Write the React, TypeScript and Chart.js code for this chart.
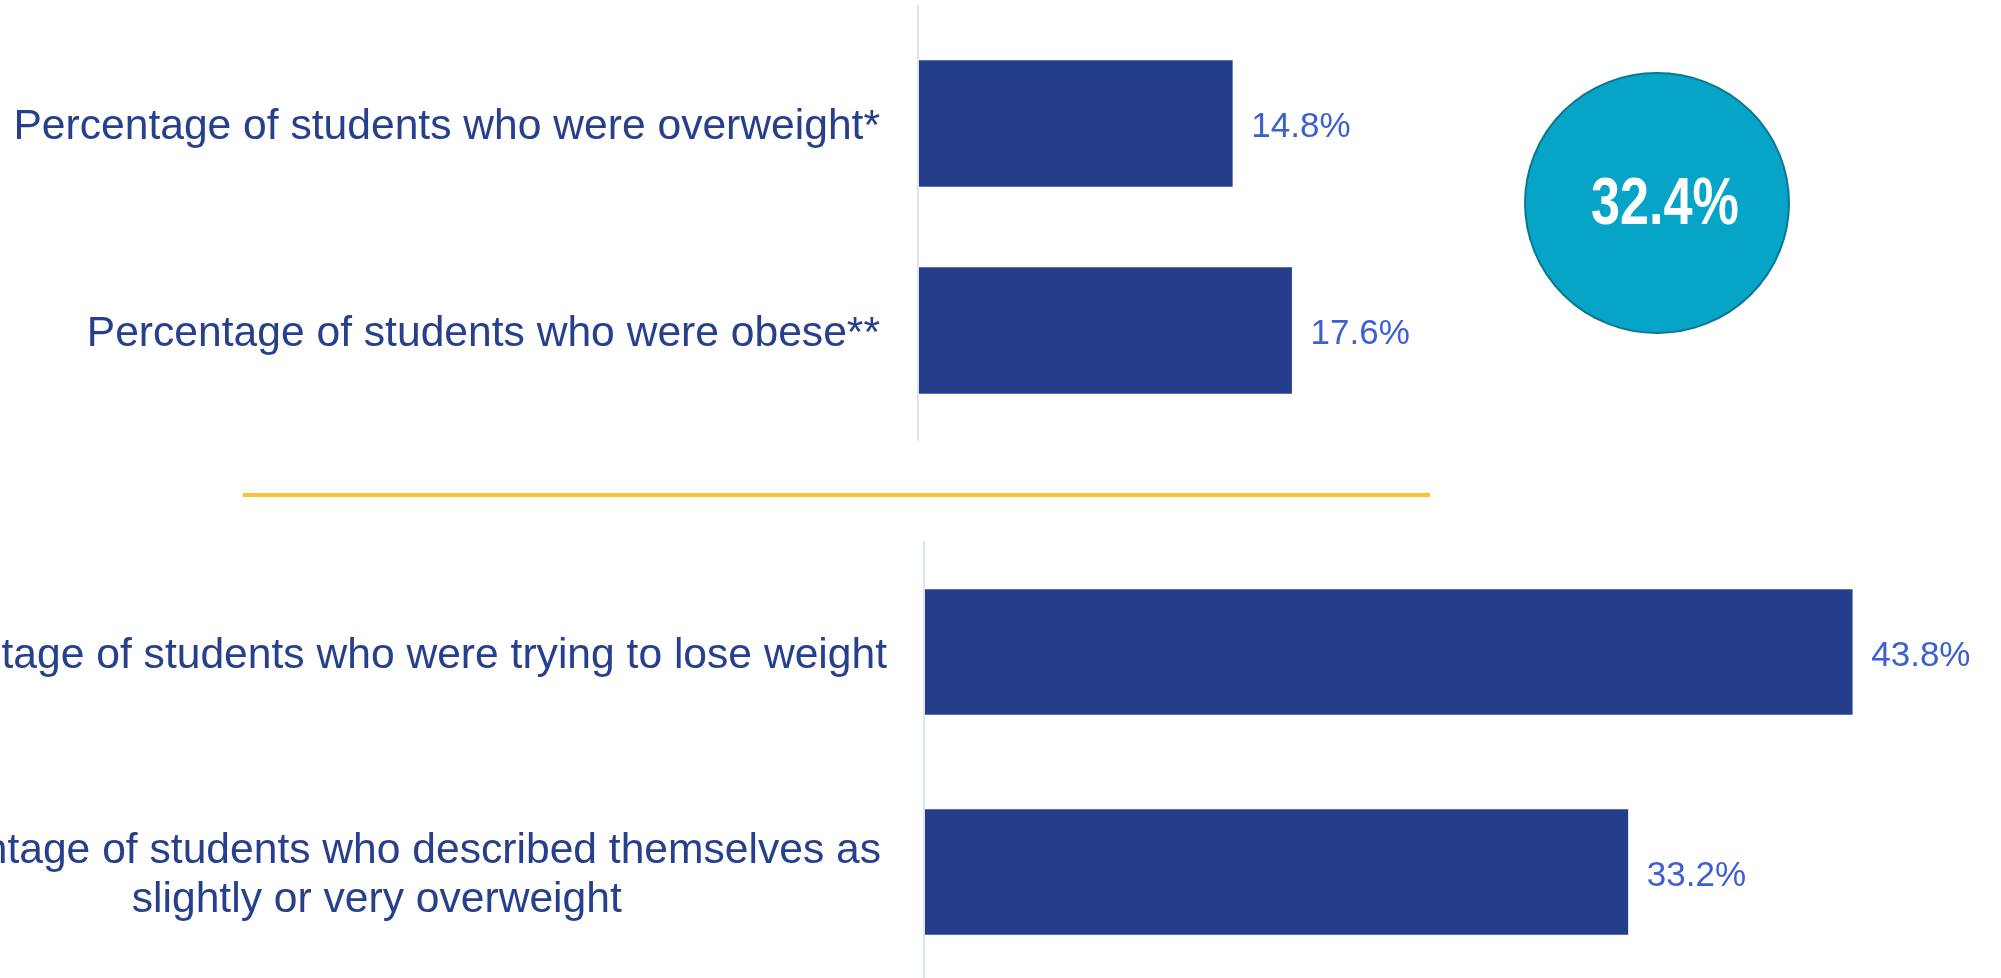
import React, { useEffect, useRef } from 'react';
import { Chart, registerables } from 'chart.js';

Chart.register(...registerables);

// ---- Data ----
const topCategories: string[] = [
  'Percentage of students who were overweight*',
  'Percentage of students who were obese**',
];
const topValues: number[] = [14.8, 17.6];

const bottomCategories: string[][] = [
  ['Percentage of students who were trying to lose weight'],
  ['Percentage of students who described themselves as', 'slightly or very overweight'],
];
const bottomValues: number[] = [43.8, 33.2];

const combinedValue = 32.4; // overweight + obese

// ---- Styling / layout ----
const X_MAX = 50;
const PX_PER_PCT = 21.17;
const CANVAS_LEFT = -300;
const CANVAS_W = 2301;
const BAR_COLOR = '#253E8C';
const LABEL_COLOR = '#27408D';
const VALUE_COLOR = '#3D5FCF';
const AXIS_COLOR = '#DCE3F5';
const FONT = '"Liberation Sans", Arial, Helvetica, sans-serif';

function valueLabelPlugin(id: string) {
  return {
    id,
    afterDatasetsDraw(chart: any) {
      const ctx = chart.ctx;
      const meta = chart.getDatasetMeta(0);
      const ds = chart.data.datasets[0];
      ctx.save();
      ctx.font = `35px ${FONT}`;
      ctx.fillStyle = VALUE_COLOR;
      ctx.textAlign = 'left';
      ctx.textBaseline = 'middle';
      meta.data.forEach((bar: any, i: number) => {
        ctx.fillText(Number(ds.data[i]).toFixed(1) + '%', bar.x + 19, bar.y + 4);
      });
      ctx.restore();
    },
  };
}

function axisLinePlugin(id: string, y0: number, y1: number) {
  return {
    id,
    beforeDatasetsDraw(chart: any) {
      const ctx = chart.ctx;
      const x = chart.scales.x.getPixelForValue(0);
      ctx.save();
      ctx.fillStyle = AXIS_COLOR;
      ctx.fillRect(x - 2, y0, 2, y1 - y0);
      ctx.restore();
    },
  };
}

const circlePlugin = {
  id: 'circleBadge',
  afterDraw(chart: any) {
    const ctx = chart.ctx;
    const cx = 1657 - CANVAS_LEFT;
    const cy = 203;
    ctx.save();
    ctx.beginPath();
    ctx.ellipse(cx, cy, 132, 130, 0, 0, Math.PI * 2);
    ctx.fillStyle = '#06A5C8';
    ctx.fill();
    ctx.lineWidth = 2;
    ctx.strokeStyle = '#0B7891';
    ctx.stroke();
    ctx.translate(cx + 8, 224);
    ctx.scale(0.79, 1);
    ctx.font = `bold 66px ${FONT}`;
    ctx.fillStyle = '#FFFFFF';
    ctx.textAlign = 'center';
    ctx.textBaseline = 'alphabetic';
    ctx.fillText(combinedValue.toFixed(1) + '%', 0, 0);
    ctx.restore();
  },
};

function makeConfig(opts: {
  labels: any[];
  values: number[];
  leftW: number;
  padTop: number;
  padBottom: number;
  barThickness: number;
  crossAlign: 'near' | 'center';
  tickPadding: number;
  plugins: any[];
}) {
  const padRight = CANVAS_W - opts.leftW - X_MAX * PX_PER_PCT;
  return {
    type: 'bar' as const,
    data: {
      labels: opts.labels,
      datasets: [
        {
          data: opts.values,
          backgroundColor: BAR_COLOR,
          borderWidth: 0,
          barThickness: opts.barThickness,
        },
      ],
    },
    options: {
      indexAxis: 'y' as const,
      responsive: false,
      maintainAspectRatio: false,
      animation: false as const,
      events: [],
      layout: {
        padding: { left: 0, right: padRight, top: opts.padTop, bottom: opts.padBottom },
      },
      plugins: {
        legend: { display: false },
        tooltip: { enabled: false },
        title: { display: false },
      },
      scales: {
        x: {
          display: false,
          min: 0,
          max: X_MAX,
        },
        y: {
          display: true,
          offset: true,
          grid: { display: false, drawTicks: false },
          border: { display: false },
          afterFit: (scale: any) => {
            scale.width = opts.leftW;
            scale.paddingTop = 0;
            scale.paddingBottom = 0;
          },
          ticks: {
            color: LABEL_COLOR,
            padding: opts.tickPadding,
            crossAlign: opts.crossAlign,
            labelOffset: 4,
            autoSkip: false,
            font: { family: FONT, size: 42.6, lineHeight: 1.15 },
          },
        },
      },
    },
    plugins: opts.plugins,
  };
}

export default function App() {
  const topRef = useRef<HTMLCanvasElement | null>(null);
  const bottomRef = useRef<HTMLCanvasElement | null>(null);

  useEffect(() => {
    const charts: Chart[] = [];
    if (topRef.current) {
      charts.push(
        new Chart(
          topRef.current,
          makeConfig({
            labels: topCategories,
            values: topValues,
            leftW: 919 - CANVAS_LEFT,
            padTop: 20,
            padBottom: 66,
            barThickness: 126,
            crossAlign: 'near',
            tickPadding: 39,
            plugins: [axisLinePlugin('axisTop', 5, 441), valueLabelPlugin('valsTop'), circlePlugin],
          }) as any
        )
      );
    }
    if (bottomRef.current) {
      charts.push(
        new Chart(
          bottomRef.current,
          makeConfig({
            labels: bottomCategories,
            values: bottomValues,
            leftW: 925 - CANVAS_LEFT,
            padTop: 42,
            padBottom: 8,
            barThickness: 125,
            crossAlign: 'center',
            tickPadding: 38,
            plugins: [axisLinePlugin('axisBottom', 41, 490), valueLabelPlugin('valsBottom')],
          }) as any
        )
      );
    }
    return () => {
      charts.forEach((c) => c.destroy());
    };
  }, []);

  return (
    <div
      style={{
        position: 'fixed',
        left: 0,
        top: 0,
        width: 2001,
        height: 978,
        overflow: 'hidden',
        background: '#FFFFFF',
      }}
    >
      <canvas
        ref={topRef}
        width={CANVAS_W}
        height={500}
        style={{ position: 'absolute', left: CANVAS_LEFT, top: 0, width: CANVAS_W, height: 500 }}
      />
      <div
        style={{
          position: 'absolute',
          left: 243,
          top: 493,
          width: 1187,
          height: 4,
          background: '#F9C22E',
        }}
      />
      <canvas
        ref={bottomRef}
        width={CANVAS_W}
        height={490}
        style={{ position: 'absolute', left: CANVAS_LEFT, top: 500, width: CANVAS_W, height: 490 }}
      />
    </div>
  );
}
